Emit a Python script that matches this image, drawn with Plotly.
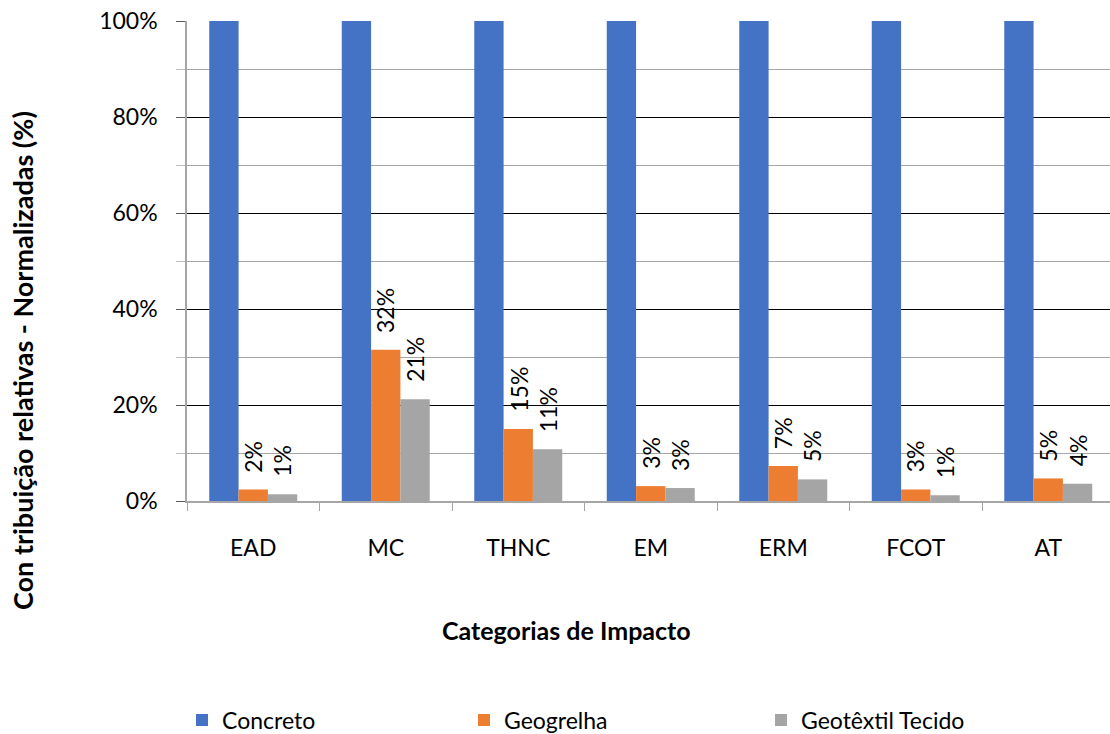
import plotly.graph_objects as go

categories = ["EAD", "MC", "THNC", "EM", "ERM", "FCOT", "AT"]
concreto = [1.0, 1.0, 1.0, 1.0, 1.0, 1.0, 1.0]
geogrelha = [0.024, 0.315, 0.150, 0.031, 0.073, 0.024, 0.047]
geotextil = [0.014, 0.212, 0.108, 0.027, 0.045, 0.012, 0.036]
geogrelha_labels = ["2%", "32%", "15%", "3%", "7%", "3%", "5%"]
geotextil_labels = ["1%", "21%", "11%", "3%", "5%", "1%", "4%"]
series_names = ["Concreto", "Geogrelha", "Geotêxtil Tecido"]
colors = ["#4472C4", "#ED7D31", "#A5A5A5"]
y_ticks = [0, 0.2, 0.4, 0.6, 0.8, 1.0]

FONT = "Lato"
W, H = 1110, 734
L, T, B = 187, 21, 501
BARGAP = 0.336
bw = (1 - BARGAP) / 3

fig = go.Figure()
for i, (name, vals) in enumerate(zip(series_names, [concreto, geogrelha, geotextil])):
    fig.add_trace(go.Bar(
        x=list(range(len(categories))), y=vals, name=name,
        marker=dict(color=colors[i], line=dict(width=0)),
        legend="legend" if i == 0 else f"legend{i+1}",
    ))

annotations = []
for j, (vals, labs) in enumerate([(geogrelha, geogrelha_labels), (geotextil, geotextil_labels)]):
    for k, (v, lab) in enumerate(zip(vals, labs)):
        annotations.append(dict(
            x=k + j * bw, y=v, xref="x", yref="y", text=lab, textangle=-90,
            showarrow=False, yanchor="bottom", xanchor="center", yshift=15,
            font=dict(family=FONT, size=23, color="#000000"),
        ))

plot_w = W - L
annotations.append(dict(
    x=(23 - L) / plot_w, y=(B - 361) / (B - T), xref="paper", yref="paper",
    text="<b>Con tribuição relativas - Normalizadas (%)</b>", textangle=-90,
    showarrow=False, xanchor="center", yanchor="middle",
    font=dict(family=FONT, size=27, color="#000000"),
))
annotations.append(dict(
    x=(566 - L) / plot_w, y=(B - 630) / (B - T), xref="paper", yref="paper",
    text="<b>Categorias de Impacto</b>",
    showarrow=False, xanchor="center", yanchor="middle",
    font=dict(family=FONT, size=25, color="#000000"),
))

def legend_at(px):
    return dict(
        x=px / W, y=1 - 720 / H, xref="container", yref="container",
        xanchor="left", yanchor="middle", orientation="h",
        font=dict(family=FONT, size=23, color="#000000"),
        bgcolor="rgba(0,0,0,0)", borderwidth=0,
    )

fig.update_layout(
    width=W, height=H,
    margin=dict(l=L, r=0, t=T, b=H - B, autoexpand=False),
    paper_bgcolor="white", plot_bgcolor="white",
    barmode="group", bargap=BARGAP, bargroupgap=0,
    font=dict(family=FONT, size=23, color="#000000"),
    showlegend=True,
    legend=legend_at(182),
    legend2=legend_at(464),
    legend3=legend_at(761),
    annotations=annotations,
    xaxis=dict(
        tickmode="array", tickvals=list(range(len(categories))), ticktext=categories,
        range=[-0.5, -0.5 + plot_w / 132.5],
        showgrid=False, zeroline=False,
        showline=True, linecolor="#A6A6A6", linewidth=1.5,
        ticks="", ticklabelstandoff=26,
        tickfont=dict(family=FONT, size=23, color="#000000"),
    ),
    yaxis=dict(
        range=[0, 1], tickvals=y_ticks, tickformat=".0%",
        showgrid=True, gridcolor="#000000", gridwidth=1,
        zeroline=False, showline=True, linecolor="#A6A6A6", linewidth=1.5,
        ticks="outside", ticklen=9, tickcolor="#595959", tickwidth=1,
        ticklabelstandoff=14,
        tickfont=dict(family=FONT, size=23, color="#000000"),
        minor=dict(dtick=0.1, showgrid=True, gridcolor="#A6A6A6", gridwidth=1,
                   ticks="outside", ticklen=9, tickcolor="#BFBFBF"),
    ),
)

# category boundary ticks on the x axis (as minor ticks at half positions)
fig.update_xaxes(minor=dict(tickmode="array",
                            tickvals=[k - 0.5 for k in range(len(categories) + 1)],
                            ticks="outside", ticklen=8, tickcolor="#A6A6A6", showgrid=False))

fig.write_html("out.html", config={"displayModeBar": False},
               post_script="document.body.style.margin='0';document.body.style.overflow='hidden';")
